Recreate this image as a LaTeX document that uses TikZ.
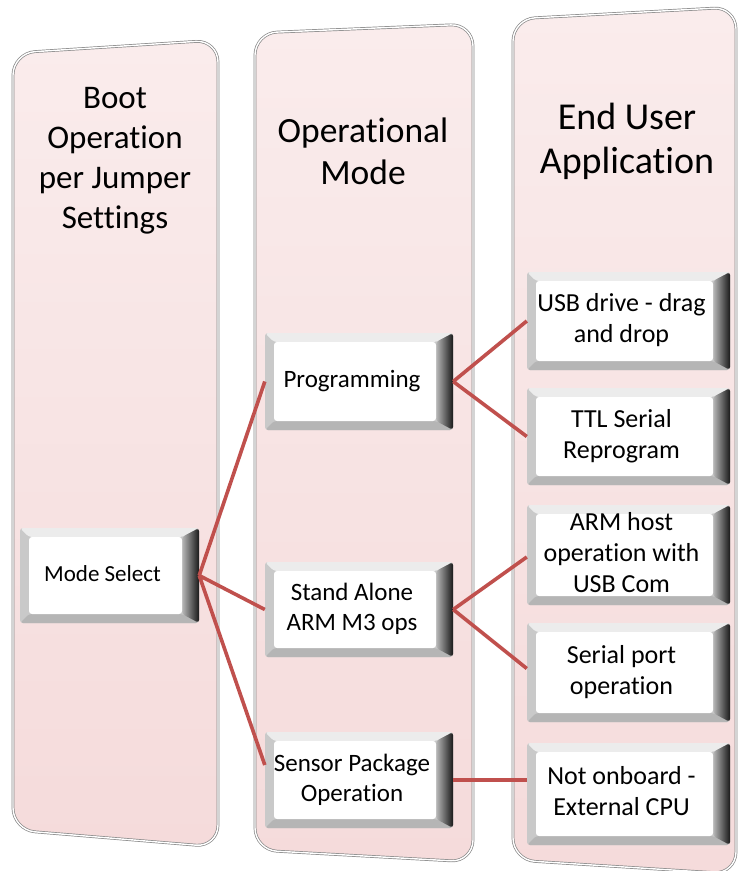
\documentclass[tikz,border=0pt]{standalone}
\usepackage{fontspec}
\setmainfont{Carlito}[Ligatures=NoCommon]
\definecolor{linkred}{RGB}{192,80,77}
\definecolor{coltop}{RGB}{250,236,236}
\definecolor{colbot}{RGB}{245,219,219}
\newcommand{\btntext}[1]{\begin{tabular}{@{}c@{}}#1\end{tabular}\hspace*{14pt}}
\begin{document}
\begin{tikzpicture}[x=1pt,y=-1pt,line join=round,
	column/.style={top color=coltop,bottom color=colbot,draw=gray!95,line width=0.7pt,double=white,double distance=1.4pt,rounded corners=22pt},
	btn/.style={inner sep=0pt,rounded corners=3pt,fill=gray!42,
		path picture={
			\path (path picture bounding box.south west) coordinate (bl) (path picture bounding box.north east) coordinate (tr)
			(path picture bounding box.north west) coordinate (tl) (path picture bounding box.south east) coordinate (br);
			\fill[gray!15] (tl)--(tr)--([shift={(-17pt,-9pt)}]tr)--([shift={(9pt,-9pt)}]tl)--cycle;
			\fill[gray!58] (bl)--(br)--([shift={(-17pt,9pt)}]br)--([shift={(9pt,9pt)}]bl)--cycle;
			\shade[left color=gray!55,right color=black!90] (tr)--(br)--([shift={(-17pt,9pt)}]br)--([shift={(-17pt,-9pt)}]tr)--cycle;
			\fill[white] ([shift={(9pt,9pt)}]bl) rectangle ([shift={(-17pt,-9pt)}]tr);
		}},
	bootbtn/.style={btn,font=\fontsize{23}{28}\selectfont},
	modebtn/.style={btn,minimum width=188pt,font=\fontsize{25}{30}\selectfont},
	appbtn/.style={btn,minimum width=203pt,font=\fontsize{26}{31}\selectfont},
	link/.style={draw=linkred,line width=3.6pt}]
	\useasboundingbox (0,0) rectangle (739,871);
	% columns
	\draw[column] (13,53)--(218,40)--(218,847)--(13,830)--cycle;
	\draw[column] (255,33)--(473,24)--(473,862)--(255,850)--cycle;
	\draw[column] (513,19)--(736,7)--(736,874)--(513,860)--cycle;
	\node[font=\fontsize{33}{40}\selectfont,align=center] (boot) at (115,161) {Boot\\Operation\\per Jumper\\Settings};
	\node[font=\fontsize{35.5}{42}\selectfont,align=center] (mode) at (363,151) {Operational\\Mode};
	\node[font=\fontsize{38}{44}\selectfont,align=center] (app) at (627,141) {End User\\Application};
	% boxes
	\node[bootbtn,minimum width=179pt,minimum height=95pt] (ms) at (109.5,575.5) {\btntext{Mode Select}};
	\node[modebtn,minimum height=97pt] (prog) at (359,381.5) {\btntext{Programming}};
	\node[modebtn,minimum height=95pt] (sa) at (359,609.5) {\btntext{Stand Alone\\ARM M3 ops}};
	\node[modebtn,minimum height=96pt] (sp) at (359,780) {\btntext{Sensor Package\\Operation}};
	\node[appbtn,minimum height=98pt] (usb) at (628.5,321) {\btntext{USB drive - drag\\and drop}};
	\node[appbtn,minimum height=97pt] (ttl) at (628.5,436.5) {\btntext{TTL Serial\\Reprogram}};
	\node[appbtn,minimum height=100pt] (arm) at (628.5,555) {\btntext{ARM host\\operation with\\USB Com}};
	\node[appbtn,minimum height=99pt] (ser) at (628.5,672.5) {\btntext{Serial port\\operation}};
	\node[appbtn,minimum height=102pt] (ext) at (628.5,794) {\btntext{Not onboard -\\External CPU}};
	% connectors
	\draw[link] (ms.east)--(prog.west) (ms.east)--(sa.west) (ms.east)--([yshift=15pt]sp.west);
	\draw[link] (prog.east)--(usb.west) (prog.east)--(ttl.west);
	\draw[link] (sa.east)--([yshift=-2pt]arm.west) (sa.east)--([yshift=4pt]ser.west);
	\draw[link] (sp.east)--(sp.east -| ext.west);
\end{tikzpicture}
\end{document}
